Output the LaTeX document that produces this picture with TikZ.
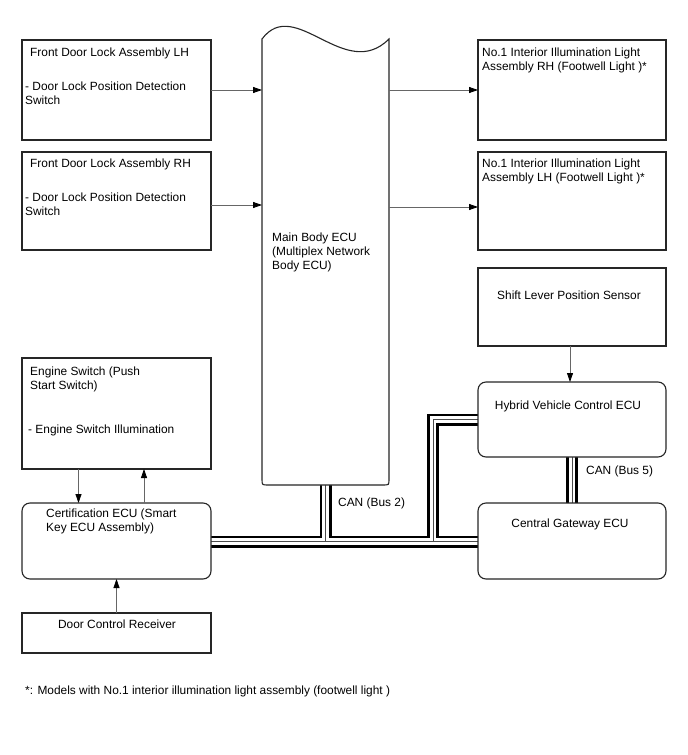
\documentclass[tikz,border=0pt]{standalone}
\usepackage{fontspec}
\setmainfont{Liberation Sans}
\usetikzlibrary{arrows.meta,backgrounds}
\newcommand\dfont{\fontsize{11.9}{14}\selectfont}
\begin{document}
\begin{tikzpicture}[x=1pt,y=-1pt,
 box/.style={draw=black!85,line width=1.1pt,fill=white,rectangle,anchor=north west,inner sep=0,outer sep=0},
 rbox/.style={box,rounded corners=8pt},
 txt/.style={anchor=base west,inner sep=0,font=\dfont},
 ctxt/.style={anchor=base,inner sep=0,font=\dfont},
 arr/.style={draw=black!60,line width=0.8pt,-{Triangle[length=9pt,width=6pt,color=black]}},
 busA/.style={line width=12pt,draw=black},
 busB/.style={line width=6.6pt,draw=white},
 busC/.style={line width=0.9pt,draw=black!70},
]
\useasboundingbox (0,0) rectangle (688,755);

% left boxes
\node[box,minimum width=189pt,minimum height=100pt] (lh) at (22,40) {};
\node[box,minimum width=189pt,minimum height=98pt] (rh) at (22,152) {};
\node[box,minimum width=189pt,minimum height=111pt] (eng) at (22,358) {};
\node[rbox,minimum width=189pt,minimum height=76pt] (cert) at (22,503) {};
\node[box,minimum width=189pt,minimum height=40pt] (rcv) at (22,613) {};

% right boxes
\node[box,minimum width=188pt,minimum height=100pt] (rl) at (478,40) {};
\node[box,minimum width=188pt,minimum height=98pt] (ll) at (478,152) {};
\node[box,minimum width=188pt,minimum height=78pt] (shift) at (478,268) {};
\node[rbox,minimum width=188pt,minimum height=75pt] (hy) at (478,382) {};
\node[rbox,minimum width=188pt,minimum height=76pt] (gw) at (478,503) {};

% main body ECU
\draw[draw=black!85,line width=1.1pt,fill=white]
  (262,39) .. controls (295,-5) and (345,83) .. (389,39)
  -- (389,479) .. controls (389,485) .. (383,485)
  -- (268,485) .. controls (262,485) .. (262,479) -- cycle;
\coordinate (mainW) at (262,100);
\coordinate (mainE) at (389,100);
\coordinate (mainbot) at (325.5,485);
\coordinate (busy) at (0,541.5);
\coordinate (hyjog) at (433,0);

% CAN buses
\begin{scope}[on background layer]
\foreach \st in {busA,busB,busC}{
  \draw[\st] (cert.east |- busy) -- (gw.west |- busy);
  \draw[\st] (mainbot) -- (mainbot |- busy);
  \draw[\st] (hy.west) -- (hy.west -| hyjog) -- (hyjog |- busy);
  \draw[\st] (hy.south) -- (gw.north);
}
\end{scope}

% texts
\node[txt] (t1) at (30,56.5) {Front Door Lock Assembly LH};
\node[txt] (t2) at (25,90.5) {- Door Lock Position Detection};
\node[txt] (t3) at (25,104.5) {Switch};
\node[txt] (t4) at (30,167.5) {Front Door Lock Assembly RH};
\node[txt] (t5) at (25,201.5) {- Door Lock Position Detection};
\node[txt] (t6) at (25,215.5) {Switch};
\node[txt] (t7) at (30,375.5) {Engine Switch (Push};
\node[txt] (t8) at (30,389) {Start Switch)};
\node[txt] (t9) at (28,433.5) {- Engine Switch Illumination};
\node[txt] (t10) at (46,517.5) {Certification ECU (Smart};
\node[txt] (t11) at (46,531.5) {Key ECU Assembly)};
\node[ctxt] (t12) at (117,628.5) {Door Control Receiver};
\node[txt] (t13) at (272,241.5) {Main Body ECU};
\node[txt] (t14) at (272,255.5) {(Multiplex Network};
\node[txt] (t15) at (272,269) {Body ECU)};
\node[txt] (t16) at (482,56.5) {No.1 Interior Illumination Light};
\node[txt] (t17) at (482,70.5) {Assembly RH (Footwell Light )*};
\node[txt] (t18) at (482,167.5) {No.1 Interior Illumination Light};
\node[txt] (t19) at (482,181.5) {Assembly LH (Footwell Light )*};
\node[ctxt] (t20) at (569,299.5) {Shift Lever Position Sensor};
\node[ctxt] (t21) at (568,409.5) {Hybrid Vehicle Control ECU};
\node[ctxt] (t22) at (570,527.5) {Central Gateway ECU};
\node[txt] (t23) at (338,506.5) {CAN (Bus 2)};
\node[txt] (t24) at (586,474.5) {CAN (Bus 5)};
\node[txt] (t25) at (25,694.5) {*: Models with No.1 interior illumination light assembly (footwell light )};

% arrows
\draw[arr] (lh.east) -- (lh.east -| mainW);
\draw[arr] ([yshift=-4pt]rh.east) -- ([yshift=-4pt]rh.east -| mainW);
\draw[arr] (rl.west -| mainE) -- (rl.west);
\draw[arr] ([yshift=-6pt]ll.west -| mainE) -- ([yshift=-6pt]ll.west);
\draw[arr] ([xshift=-2pt]shift.south) -- ([xshift=-2pt]shift.south |- hy.north);
\draw[arr] ([xshift=-38pt]eng.south) -- ([xshift=-38pt]cert.north);
\draw[arr] ([xshift=27.5pt]cert.north) -- ([xshift=27.5pt]eng.south);
\draw[arr] (rcv.north) -- (cert.south);
\end{tikzpicture}
\end{document}
